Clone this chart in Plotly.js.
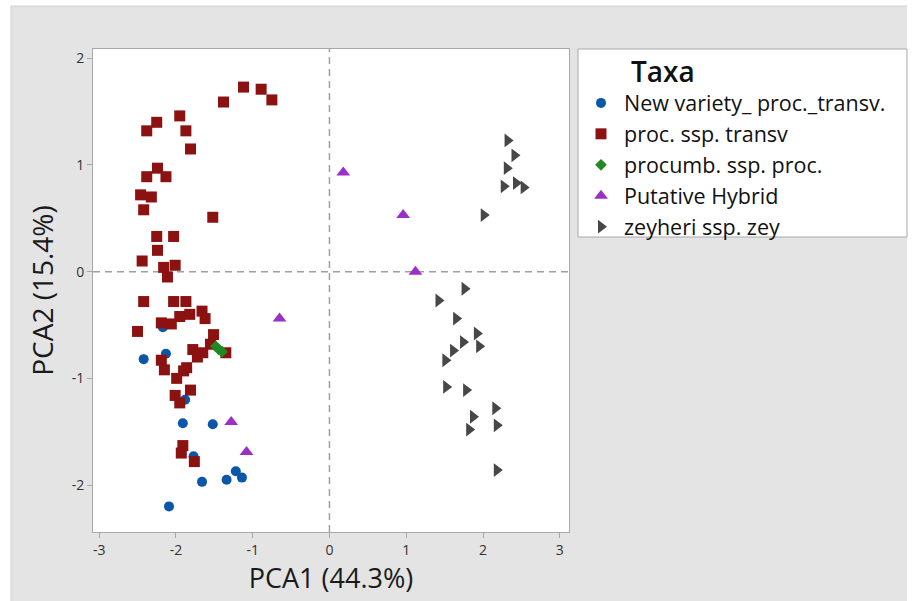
<!DOCTYPE html>
<html>
<head>
<meta charset="utf-8">
<script src="https://cdn.plot.ly/plotly-3.0.1.min.js"></script>
<style>html,body{margin:0;padding:0;background:#fff;}#chart{width:916px;height:601px;}</style>
</head>
<body>
<div id="chart"></div>
<script>
// ---- data ----
const seriesNames = ["New variety_ proc._transv.", "proc. ssp. transv", "procumb. ssp. proc.", "Putative Hybrid", "zeyheri ssp. zey"];

const newVarX = [-2.42, -2.13, -2.17, -1.88, -1.91, -1.52, -1.77, -1.66, -1.34, -1.22, -1.14, -2.09];
const newVarY = [-0.82, -0.77, -0.52, -1.20, -1.42, -1.43, -1.73, -1.97, -1.95, -1.87, -1.93, -2.20];

const procX = [-1.12, -0.89, -0.75, -1.38, -2.25, -2.38, -1.95, -1.87, -1.81, -2.24, -2.38, -2.13,
               -2.46, -2.32, -2.42, -1.52, -2.25, -2.03, -2.24, -2.44, -2.16, -2.01, -2.11,
               -2.42, -2.03, -1.87, -1.66, -1.95, -1.82, -1.62, -2.19, -2.06, -2.50, -1.51,
               -1.55, -1.78, -1.65, -1.72, -1.35, -2.19, -2.15, -1.86, -1.90, -1.99, -1.81,
               -2.01, -1.95, -1.91, -1.93, -1.76];
const procY = [1.73, 1.71, 1.61, 1.59, 1.40, 1.32, 1.46, 1.32, 1.15, 0.97, 0.89, 0.89,
               0.72, 0.70, 0.58, 0.51, 0.33, 0.33, 0.20, 0.10, 0.04, 0.06, -0.05,
               -0.28, -0.28, -0.28, -0.37, -0.42, -0.40, -0.44, -0.48, -0.49, -0.56, -0.59,
               -0.68, -0.73, -0.76, -0.80, -0.76, -0.83, -0.92, -0.90, -0.93, -1.00, -1.11,
               -1.16, -1.23, -1.63, -1.70, -1.78];

const procumbX = [-1.48, -1.44, -1.40];
const procumbY = [-0.70, -0.73, -0.75];

const hybridX = [-0.65, -1.28, -1.08, 0.18, 0.96, 1.12];
const hybridY = [-0.44, -1.41, -1.69, 0.93, 0.53, 0.00];

const zeyX = [2.32, 2.41, 2.31, 2.27, 2.43, 2.53, 2.01, 1.76, 1.42, 1.65, 1.92, 1.95, 1.74, 1.61, 1.51,
              1.52, 1.78, 2.16, 2.18, 1.87, 1.82, 2.18];
const zeyY = [1.23, 1.09, 0.97, 0.80, 0.83, 0.79, 0.53, -0.16, -0.27, -0.44, -0.58, -0.70, -0.66, -0.74, -0.83,
              -1.08, -1.11, -1.28, -1.44, -1.36, -1.48, -1.86];

const xTicks = [-3, -2, -1, 0, 1, 2, 3];
const yTicks = [-2, -1, 0, 1, 2];

// ---- chart ----
const FONT = "Open Sans, Noto Sans, sans-serif";
function tr(x, y, name, symbol, color, size) {
  return {x: x, y: y, name: name, type: "scatter", mode: "markers",
          marker: {symbol: symbol, color: color, size: size, line: {width: 0}},
          hoverinfo: "skip"};
}
const data = [
  tr(newVarX, newVarY, seriesNames[0], "circle", "#0a56a8", 10),
  tr(procX, procY, seriesNames[1], "square", "#8c1111", 11),
  tr(procumbX, procumbY, seriesNames[2], "diamond", "#1f8a22", 9),
  tr(hybridX, hybridY, seriesNames[3], "triangle-up", "#9b30c8", 12),
  tr(zeyX, zeyY, seriesNames[4], "triangle-right", "#474747", 12)
];

const PW = 476, PH = 483, PL = 93, PB = 532;
const px = v => (v - PL) / PW;
const py = v => (PB - v) / PH;

const layout = {
  width: 916, height: 601,
  margin: {l: 93, r: 347, t: 49, b: 69},
  paper_bgcolor: "#e4e4e4",
  plot_bgcolor: "#ffffff",
  showlegend: true,
  font: {family: FONT, color: "#222"},
  xaxis: {
    range: [-3.08, 3.12], tickvals: xTicks, ticktext: xTicks.map(String),
    showgrid: false, zeroline: false, showline: true, mirror: true,
    linecolor: "#a8a8a8", linewidth: 1, ticks: "outside", ticklen: 5, tickcolor: "#a8a8a8",
    tickfont: {family: FONT, size: 14, color: "#333"},
    title: {text: "PCA1 (44.3%)", font: {family: FONT, size: 27, color: "#1a1a1a"}, standoff: 4}
  },
  yaxis: {
    range: [-2.44, 2.087], tickvals: yTicks, ticktext: yTicks.map(String),
    showgrid: false, zeroline: false, showline: true, mirror: true,
    linecolor: "#a8a8a8", linewidth: 1, ticks: "outside", ticklen: 5, tickcolor: "#a8a8a8",
    tickfont: {family: FONT, size: 14, color: "#333"},
    title: {text: "PCA2 (15.4%)", font: {family: FONT, size: 28, color: "#1a1a1a"}, standoff: 9}
  },
  legend: {
    x: px(578), xanchor: "left", y: py(46), yanchor: "top",
    bgcolor: "rgba(0,0,0,0)", borderwidth: 0,
    font: {family: FONT, size: 21.5, color: "#111"},
    itemwidth: 36,
    title: {text: "\u00a0\u00a0\u00a0\u00a0\u00a0\u00a0\u00a0Taxa", font: {family: FONT, size: 28, color: "#111", weight: 600}},
    tracegroupgap: 0
  },
  shapes: [
    // white strips outside the grey panel
    {type: "rect", xref: "paper", yref: "paper", x0: -0.3, x1: px(11), y0: -0.2, y1: 1.2, fillcolor: "#ffffff", line: {width: 0}, layer: "above"},
    {type: "rect", xref: "paper", yref: "paper", x0: -0.3, x1: 1.8, y0: py(6), y1: 1.2, fillcolor: "#ffffff", line: {width: 0}, layer: "above"},
    {type: "rect", xref: "paper", yref: "paper", x0: px(907), x1: 1.8, y0: -0.2, y1: 1.2, fillcolor: "#ffffff", line: {width: 0}, layer: "above"},
    // panel edges
    {type: "line", xref: "paper", yref: "paper", x0: px(11), x1: px(11), y0: -0.2, y1: py(6), line: {color: "#d2d2d2", width: 1}},
    {type: "line", xref: "paper", yref: "paper", x0: px(11), x1: px(907), y0: py(6), y1: py(6), line: {color: "#d2d2d2", width: 1}},
    // legend box
    {type: "rect", xref: "paper", yref: "paper", x0: px(578), x1: px(907), y0: py(237), y1: py(49), fillcolor: "#ffffff", line: {color: "#a8a8a8", width: 1}, layer: "above"},
    // dashed reference lines at 0
    {type: "line", xref: "x", yref: "paper", x0: 0, x1: 0, y0: 0, y1: 1, line: {color: "#a0a0a0", width: 1.5, dash: "7px,5px"}, layer: "below"},
    {type: "line", xref: "paper", yref: "y", x0: 0, x1: 1, y0: 0, y1: 0, line: {color: "#a0a0a0", width: 1.5, dash: "7px,5px"}, layer: "below"}
  ]
};

Plotly.newPlot("chart", data, layout, {displayModeBar: false, staticPlot: true});
</script>
</body>
</html>
